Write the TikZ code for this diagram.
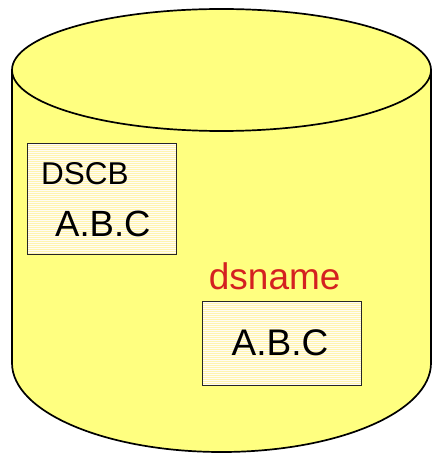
\documentclass[tikz,border=0pt]{standalone}
\usepackage{fontspec}
\setmainfont{Liberation Sans}
\definecolor{cylyellow}{RGB}{255,255,128}
\definecolor{stripeyellow}{RGB}{255,244,175}
\definecolor{boxfill}{RGB}{255,252,244}
\definecolor{dsred}{RGB}{212,32,32}
\tikzset{
  cylline/.style={line width=1.7pt, draw=black},
  databox/.style={draw=black!85, line width=0.9pt, fill=boxfill, inner sep=0pt,
    path picture={
      \foreach \k in {0,...,60}
        \draw[stripeyellow, line width=0.7pt]
          ([yshift=-\k*2pt]path picture bounding box.north west) --
          ([yshift=-\k*2pt]path picture bounding box.north east);
    }},
  lbl/.style={inner sep=0pt, anchor=base west}
}
\begin{document}
\begin{tikzpicture}[x=1pt,y=-1pt]
\useasboundingbox (0,0) rectangle (433,454);
% cylinder body
\fill[cylyellow] (12,70) -- (12,363)
  arc[start angle=180, end angle=0, x radius=209.5, y radius=89]
  -- (431,70)
  arc[start angle=0, end angle=-180, x radius=209.5, y radius=61] -- cycle;
\draw[cylline] (12,70) -- (12,363)
  arc[start angle=180, end angle=0, x radius=209.5, y radius=89]
  -- (431,70);
\draw[cylline, fill=cylyellow] (221.5,70) ellipse [x radius=209.5, y radius=61];
% boxes
\node[databox, minimum width=148.7pt, minimum height=111pt] (dscbbox) at (101.6,198.8) {};
\node[databox, minimum width=158.3pt, minimum height=84pt] (dsbox) at (281.8,343) {};
% texts
\node[lbl, font=\fontsize{31.5}{31.5}\selectfont] (dscb) at (41,185) {DSCB};
\node[lbl, font=\fontsize{36.5}{36.5}\selectfont] (abc1) at (55,236) {A.B.C};
\node[lbl, font=\fontsize{37}{37}\selectfont, text=dsred] (dsname) at (208.7,289.3) {dsname};
\node[lbl, font=\fontsize{37}{37}\selectfont] (abc2) at (231.5,355) {A.B.C};
\end{tikzpicture}
\end{document}
